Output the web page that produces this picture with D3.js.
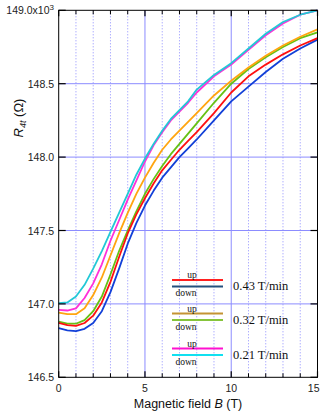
<!DOCTYPE html>
<html>
<head>
<meta charset="utf-8">
<script src="https://cdn.jsdelivr.net/npm/d3@7/dist/d3.min.js"></script>
<style>
  body { margin: 0; background: #fff; }
  svg { display: block; }
</style>
</head>
<body>
<div id="chart"></div>
<script>
// magnetic field (T)
const fieldB = [0, 0.5, 1, 1.5, 2, 2.5, 3, 3.5, 4, 4.5, 5, 5.5, 6, 6.5, 7, 7.5, 8, 9, 10, 11, 12, 13, 14, 15];

// R4t (x10^3 ohm) for each sweep
const up043   = [146.87, 146.855, 146.85, 146.87, 146.92, 147.01, 147.15, 147.32, 147.48, 147.61, 147.72, 147.82, 147.91, 147.98, 148.05, 148.11, 148.17, 148.30, 148.44, 148.55, 148.63, 148.70, 148.76, 148.81];
const down043 = [146.835, 146.82, 146.815, 146.83, 146.87, 146.95, 147.08, 147.24, 147.41, 147.55, 147.67, 147.77, 147.86, 147.93, 148.00, 148.06, 148.12, 148.25, 148.38, 148.48, 148.58, 148.67, 148.74, 148.80];
const up032   = [146.94, 146.93, 146.93, 146.97, 147.06, 147.18, 147.33, 147.48, 147.62, 147.75, 147.86, 147.96, 148.05, 148.12, 148.18, 148.24, 148.30, 148.42, 148.52, 148.61, 148.69, 148.76, 148.82, 148.87];
const down032 = [146.88, 146.865, 146.865, 146.89, 146.95, 147.05, 147.20, 147.36, 147.50, 147.63, 147.75, 147.85, 147.94, 148.02, 148.09, 148.16, 148.23, 148.37, 148.50, 148.60, 148.68, 148.75, 148.81, 148.85];
const up021   = [146.96, 146.955, 146.97, 147.04, 147.14, 147.27, 147.43, 147.57, 147.71, 147.84, 147.97, 148.08, 148.17, 148.25, 148.31, 148.37, 148.44, 148.55, 148.63, 148.73, 148.83, 148.91, 148.97, 149.00];
const down021 = [147.005, 147.01, 147.05, 147.13, 147.24, 147.36, 147.49, 147.62, 147.75, 147.88, 147.99, 148.09, 148.18, 148.26, 148.32, 148.38, 148.46, 148.56, 148.64, 148.74, 148.84, 148.92, 148.97, 149.00];

const xTicks = [0, 5, 10, 15];
const xMinor = [1, 2, 3, 4, 6, 7, 8, 9, 11, 12, 13, 14];
const yTicks = [146.5, 147.0, 147.5, 148.0, 148.5, 149.0];
const legendRates = ['0.43 T/min', '0.32 T/min', '0.21 T/min'];

const width = 320;
const height = 413;

const x = d3.scaleLinear().domain([0, 15]).range([58.7, 317.5]);
const y = d3.scaleLinear().domain([146.5, 149.0]).range([377.3, 10.3]);

const svg = d3.select('#chart')
  .append('svg')
  .attr('width', width)
  .attr('height', height);

// grid
const grid = svg.append('g');
grid.selectAll('.minor')
  .data(xMinor)
  .enter()
  .append('line')
  .attr('x1', d => x(d)).attr('x2', d => x(d))
  .attr('y1', y(149.0)).attr('y2', y(146.5))
  .attr('stroke', '#8c8cff')
  .attr('stroke-width', 1)
  .attr('stroke-dasharray', '1,2');

grid.selectAll('.vmajor')
  .data([5, 10])
  .enter()
  .append('line')
  .attr('x1', d => x(d)).attr('x2', d => x(d))
  .attr('y1', y(149.0)).attr('y2', y(146.5))
  .attr('stroke', '#8c8cff')
  .attr('stroke-width', 1);

grid.selectAll('.hmajor')
  .data(yTicks.slice(1, -1))
  .enter()
  .append('line')
  .attr('x1', x(0)).attr('x2', x(15))
  .attr('y1', d => y(d)).attr('y2', d => y(d))
  .attr('stroke', '#8c8cff')
  .attr('stroke-width', 1);

// curves
const series = [
  { values: down032, color: '#66c214' },
  { values: up032, color: '#ffa510' },
  { values: down043, color: '#1240d8' },
  { values: up043, color: '#ff1010' },
  { values: up021, color: '#ff30d8' },
  { values: down021, color: '#22c8d6' },
];

const line = d3.line()
  .x(d => x(d[0]))
  .y(d => y(d[1]));

svg.append('g')
  .selectAll('path')
  .data(series)
  .enter()
  .append('path')
  .attr('d', s => line(fieldB.map((b, i) => [b, s.values[i]])))
  .attr('fill', 'none')
  .attr('stroke', s => s.color)
  .attr('stroke-width', 1.8)
  .attr('stroke-linejoin', 'round');

// frame + ticks
const axes = svg.append('g').attr('stroke', '#000');
axes.append('rect')
  .attr('x', x(0)).attr('y', y(149.0))
  .attr('width', x(15) - x(0)).attr('height', y(146.5) - y(149.0))
  .attr('fill', 'none')
  .attr('stroke-width', 1);

xTicks.forEach(t => {
  axes.append('line').attr('x1', x(t)).attr('x2', x(t)).attr('y1', y(146.5)).attr('y2', y(146.5) - 6).attr('stroke-width', 1.2);
  axes.append('line').attr('x1', x(t)).attr('x2', x(t)).attr('y1', y(149.0)).attr('y2', y(149.0) + 6).attr('stroke-width', 1.2);
});
xMinor.forEach(t => {
  axes.append('line').attr('x1', x(t)).attr('x2', x(t)).attr('y1', y(146.5)).attr('y2', y(146.5) - 4).attr('stroke-width', 1);
  axes.append('line').attr('x1', x(t)).attr('x2', x(t)).attr('y1', y(149.0)).attr('y2', y(149.0) + 4).attr('stroke-width', 1);
});
yTicks.forEach(t => {
  axes.append('line').attr('x1', x(0)).attr('x2', x(0) + 7).attr('y1', y(t)).attr('y2', y(t)).attr('stroke-width', 1.2);
  axes.append('line').attr('x1', x(15)).attr('x2', x(15) - 7).attr('y1', y(t)).attr('y2', y(t)).attr('stroke-width', 1.2);
});

// tick labels
const labelFont = 'Arial, "Liberation Sans", sans-serif';
svg.append('g')
  .selectAll('text')
  .data(xTicks)
  .enter()
  .append('text')
  .attr('x', d => d === 15 ? 319.5 : x(d))
  .attr('y', 392)
  .attr('text-anchor', d => d === 15 ? 'end' : 'middle')
  .attr('font-family', labelFont)
  .attr('font-size', 10.5)
  .attr('fill', '#222')
  .text(d => d);

const yLabels = svg.append('g')
  .selectAll('text')
  .data(yTicks)
  .enter()
  .append('text')
  .attr('x', 54)
  .attr('y', d => y(d) + 4)
  .attr('text-anchor', 'end')
  .attr('font-family', labelFont)
  .attr('font-size', 10.5)
  .attr('fill', '#222');

yLabels.filter(d => d !== 149.0).text(d => d3.format('.1f')(d));
yLabels.filter(d => d === 149.0).each(function (d) {
  const t = d3.select(this);
  t.append('tspan').text(d3.format('.1f')(d) + 'x10');
  t.append('tspan').attr('dy', -4).attr('font-size', 8).text('3');
});

// axis titles
const xt = svg.append('text')
  .attr('x', 188)
  .attr('y', 408)
  .attr('text-anchor', 'middle')
  .attr('font-family', labelFont)
  .attr('font-size', 12.5)
  .attr('fill', '#111');
xt.append('tspan').text('Magnetic field ');
xt.append('tspan').attr('font-style', 'italic').text('B');
xt.append('tspan').text(' (T)');

const yt = svg.append('text')
  .attr('transform', 'translate(23,118) rotate(-90)')
  .attr('text-anchor', 'middle')
  .attr('font-family', labelFont)
  .attr('font-size', 13)
  .attr('fill', '#111');
yt.append('tspan').attr('font-style', 'italic').text('R');
yt.append('tspan').attr('dy', 3).attr('font-size', 9).attr('font-style', 'italic').text('4t');
yt.append('tspan').attr('dy', -3).text(' (Ω)');

// legend
const legendColors = [
  ['#ff2020', '#25507e'],
  ['#c49434', '#86c43c'],
  ['#ff10d0', '#10e0f0'],
];
const legendTop = [280, 313.5, 348.5];
const serif = '"Liberation Serif", "Times New Roman", serif';
const legend = svg.append('g');
legendRates.forEach((rate, i) => {
  const g = legend.append('g').attr('transform', `translate(0,${legendTop[i]})`);
  g.append('line').attr('x1', 172).attr('x2', 223).attr('y1', 0).attr('y2', 0)
    .attr('stroke', legendColors[i][0]).attr('stroke-width', 2);
  g.append('line').attr('x1', 172).attr('x2', 223).attr('y1', 6.5).attr('y2', 6.5)
    .attr('stroke', legendColors[i][1]).attr('stroke-width', 2);
  g.append('text').attr('x', 192).attr('y', -2).attr('text-anchor', 'middle')
    .attr('font-family', serif).attr('font-size', 9.5).attr('fill', '#111').text('up');
  g.append('text').attr('x', 186).attr('y', 16).attr('text-anchor', 'middle')
    .attr('font-family', serif).attr('font-size', 9.5).attr('fill', '#111').text('down');
  g.append('text').attr('x', 233).attr('y', 10).attr('font-family', serif)
    .attr('font-size', 12.5).attr('fill', '#111').text(rate);
});
</script>
</body>
</html>
